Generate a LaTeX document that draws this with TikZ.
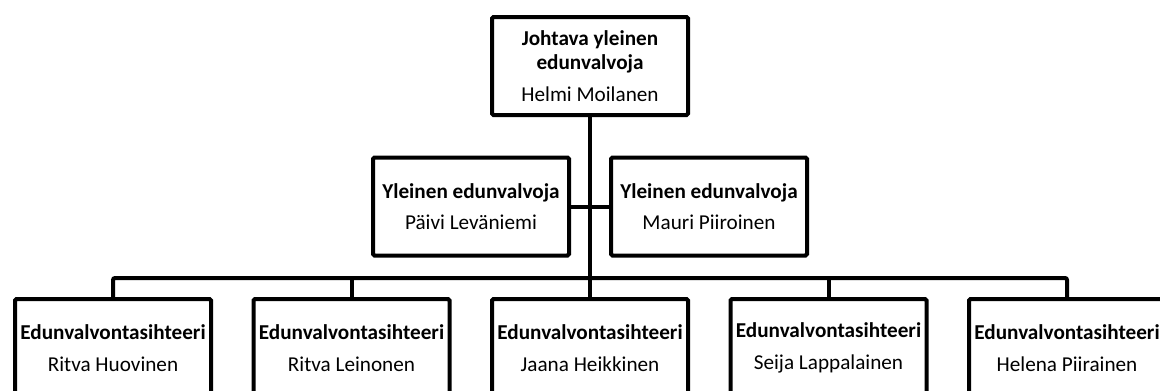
\documentclass[tikz,border=0pt]{standalone}
\usepackage{fontspec}
\setmainfont{Carlito}
\usetikzlibrary{positioning}

\begin{document}
\begin{tikzpicture}[
        x=1pt, y=-1pt,
        line width=4pt,
        node distance=38.5pt,
        role/.style={draw, rectangle, rounded corners=1.5pt, fill=white, minimum width=196pt, minimum height=98pt, inner sep=0pt, align=center, font=\fontsize{21.2}{24.5}\selectfont},
        link/.style={rounded corners=2pt}
        ]
    \useasboundingbox (0,0) rectangle (1160,391);
    \clip (0,0) rectangle (1160,391);

        % Nodes
        \node[role] (head) at (590,66) {\textbf{Johtava yleinen}\\\textbf{edunvalvoja}\\[7pt]Helmi Moilanen};
        \node[role] (gen1) at (471,206.5) {\textbf{Yleinen edunvalvoja}\\[7pt]Päivi Leväniemi};
        \node[role] (gen2) at (709,206.5) {\textbf{Yleinen edunvalvoja}\\[7pt]Mauri Piiroinen};
        \node[role] (sec1) at (113,348) {\textbf{Edunvalvontasihteeri}\\[7pt]Ritva Huovinen};
        \node[role] (sec2) [right=of sec1] {\textbf{Edunvalvontasihteeri}\\[7pt]Ritva Leinonen};
        \node[role] (sec3) [right=of sec2] {\textbf{Edunvalvontasihteeri}\\[7pt]Jaana Heikkinen};
        \node[role] (sec4) [right=of sec3] {\textbf{Edunvalvontasihteeri}\\[7pt]Seija Lappalainen};
        \node[role] (sec5) [right=of sec4] {\textbf{Edunvalvontasihteeri}\\[7pt]Helena Piirainen};
        \coordinate (bus) at (head.south |- 0,278);

        % Edges
        \draw[link] (head.south) -- (bus);
        \draw[link] (gen1.east) -- (gen2.west);
        \draw[link] (sec1.north) |- (bus) -| (sec5.north);
        \draw[link] (sec2.north) -- (sec2.north |- bus);
        \draw[link] (sec3.north) -- (sec3.north |- bus);
        \draw[link] (sec4.north) -- (sec4.north |- bus);

\end{tikzpicture}
\end{document}
